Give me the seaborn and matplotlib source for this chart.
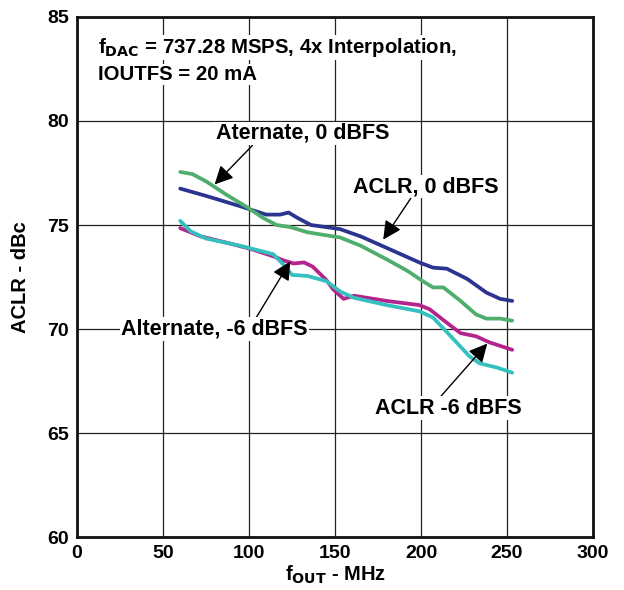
import pandas as pd
import matplotlib.pyplot as plt
import seaborn as sns

# ACLR, 0 dBFS
aclr0_f = [60, 75, 95, 110, 118, 123, 128, 136, 149, 153, 165, 180, 199, 207, 215, 227, 238, 246, 253]
aclr0_v = [76.75, 76.4, 75.9, 75.5, 75.5, 75.6, 75.35, 75.0, 74.85, 74.8, 74.45, 73.9, 73.2, 72.95, 72.9, 72.4, 71.75, 71.45, 71.35]

# Aternate, 0 dBFS
alt0_f = [60, 67, 75, 87, 99, 108, 116, 124, 134, 149, 153, 165, 180, 192, 201, 207, 213, 223, 232, 238, 246, 253]
alt0_v = [77.55, 77.45, 77.1, 76.45, 75.85, 75.35, 75.0, 74.9, 74.65, 74.45, 74.4, 74.0, 73.35, 72.8, 72.3, 72.0, 72.0, 71.35, 70.7, 70.5, 70.5, 70.4]

# ACLR -6 dBFS
aclr6_f = [60, 72, 87, 101, 114, 120, 126, 132, 137, 145, 149, 155, 161, 180, 199, 205, 215, 223, 232, 240, 253]
aclr6_v = [74.85, 74.45, 74.15, 73.85, 73.5, 73.3, 73.15, 73.2, 73.0, 72.35, 71.9, 71.45, 71.6, 71.35, 71.15, 70.95, 70.3, 69.8, 69.65, 69.35, 69.0]

# Alternate, -6 dBFS
alt6_f = [60, 66, 75, 95, 114, 120, 125, 134, 145, 153, 161, 180, 199, 207, 219, 228, 234, 244, 253]
alt6_v = [75.2, 74.7, 74.35, 74.0, 73.6, 73.1, 72.6, 72.55, 72.3, 71.8, 71.5, 71.15, 70.85, 70.55, 69.5, 68.7, 68.35, 68.15, 67.9]

series = {
    'ACLR, 0 dBFS': (aclr0_f, aclr0_v),
    'Aternate, 0 dBFS': (alt0_f, alt0_v),
    'ACLR -6 dBFS': (aclr6_f, aclr6_v),
    'Alternate, -6 dBFS': (alt6_f, alt6_v),
}
colors = {
    'ACLR, 0 dBFS': '#2b3590',
    'Aternate, 0 dBFS': '#4fae6d',
    'ACLR -6 dBFS': '#b3248c',
    'Alternate, -6 dBFS': '#35c0c0',
}

rows = []
for name, (f, v) in series.items():
    for a, b in zip(f, v):
        rows.append({'f': a, 'aclr': b, 'curve': name})
df = pd.DataFrame(rows)

sns.set_style('white')
plt.rcParams['font.family'] = ['Liberation Sans', 'DejaVu Sans']
plt.rcParams['font.weight'] = 'bold'
plt.rcParams['text.color'] = 'black'
plt.rcParams['axes.labelcolor'] = 'black'
plt.rcParams['xtick.color'] = 'black'
plt.rcParams['ytick.color'] = 'black'

fig = plt.figure(figsize=(6.24, 5.9), dpi=100)
ax = fig.add_axes([0.1234, 0.0898, 0.827, 0.8814])

sns.lineplot(data=df, x='f', y='aclr', hue='curve', palette=colors,
             linewidth=2.7, legend=False, sort=False, ax=ax)

ax.set_xlim(0, 300)
ax.set_ylim(60, 85)
ax.set_xticks(range(0, 301, 50))
ax.set_yticks(range(60, 86, 5))
ax.grid(True, color='#222222', linewidth=0.9)
ax.set_axisbelow(True)
for s in ax.spines.values():
    s.set_linewidth(2)
    s.set_color('#111111')
ax.tick_params(length=0, labelsize=14, pad=6)
for lab in ax.get_xticklabels() + ax.get_yticklabels():
    lab.set_fontweight('bold')

ax.set_xlabel(r'f$_{\mathbf{OUT}}$ - MHz', fontsize=14.5, fontweight='bold', labelpad=1)
ax.set_ylabel('ACLR - dBc', fontsize=14.5, fontweight='bold', labelpad=12)

box = dict(facecolor='white', edgecolor='none', pad=1)
ax.text(12, 83.27, r'f$_{\mathbf{DAC}}$ = 737.28 MSPS, 4x Interpolation,',
        fontsize=14.7, fontweight='bold', va='baseline', ha='left', bbox=box)
ax.text(12, 81.97, 'IOUTFS = 20 mA',
        fontsize=14.7, fontweight='bold', va='baseline', ha='left', bbox=box)

arrow = dict(arrowstyle='-|>', color='black', lw=1, mutation_scale=28)
lab_kw = dict(fontsize=15.5, fontweight='bold', ha='center', va='center', bbox=box)
ax.annotate('Aternate, 0 dBFS', xy=(80, 76.95), xytext=(131, 79.4),
            arrowprops=dict(arrow, shrinkA=0, shrinkB=0, relpos=(0.22, 0)), **lab_kw)
ax.annotate('ACLR, 0 dBFS', xy=(178, 74.3), xytext=(203, 76.85),
            arrowprops=dict(arrow, shrinkA=0, shrinkB=0, relpos=(0.4, 0)), **lab_kw)
ax.annotate('Alternate, -6 dBFS', xy=(124, 73.25), xytext=(80, 70.0),
            arrowprops=dict(arrow, shrinkA=0, shrinkB=0, relpos=(0.72, 1)), **lab_kw)
ax.annotate('ACLR -6 dBFS', xy=(238.5, 69.3), xytext=(216, 66.2),
            arrowprops=dict(arrow, shrinkA=0, shrinkB=0, relpos=(0.44, 1)), **lab_kw)

fig.savefig('out.png', dpi=100)
